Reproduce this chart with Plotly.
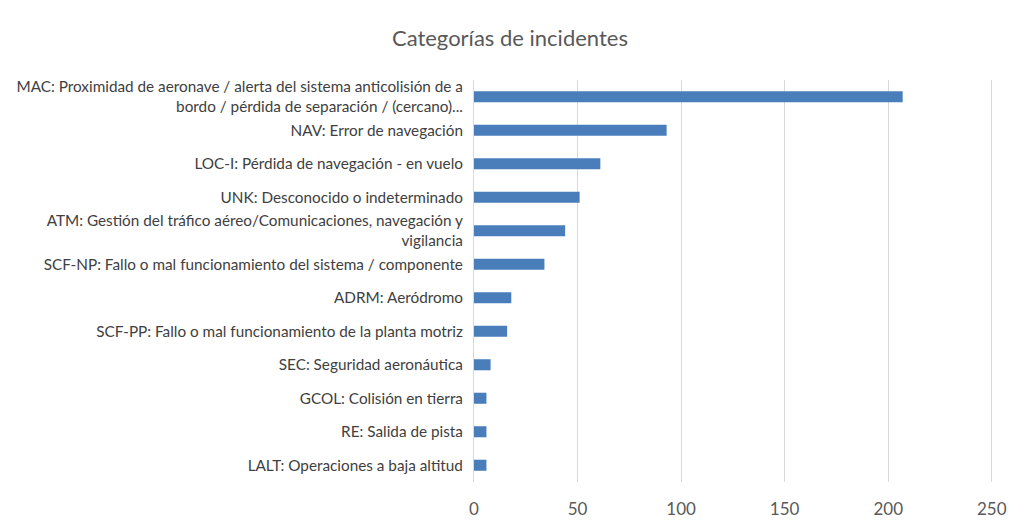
import plotly.graph_objects as go

categories = [
    "MAC: Proximidad de aeronave / alerta del sistema anticolisión de a<br>bordo / pérdida de separación / (cercano)...",
    "NAV: Error de navegación",
    "LOC-I: Pérdida de navegación - en vuelo",
    "UNK: Desconocido o indeterminado",
    "ATM: Gestión del tráfico aéreo/Comunicaciones, navegación y<br>vigilancia",
    "SCF-NP: Fallo o mal funcionamiento del sistema / componente",
    "ADRM: Aeródromo",
    "SCF-PP: Fallo o mal funcionamiento de la planta motriz",
    "SEC: Seguridad aeronáutica",
    "GCOL: Colisión en tierra",
    "RE: Salida de pista",
    "LALT: Operaciones a baja altitud",
]
values = [207, 93, 61, 51, 44, 34, 18, 16, 8, 6, 6, 6]
x_ticks = [0, 50, 100, 150, 200, 250]
title = "Categorías de incidentes"

FONT = "Lato"
TXT = "#595959"

fig = go.Figure(
    go.Bar(
        x=values,
        y=categories,
        orientation="h",
        marker=dict(color="#4a7ebb", line=dict(width=0)),
        width=0.33,
    )
)

fig.update_layout(
    width=1024,
    height=532,
    margin=dict(l=474, r=31, t=80, b=50),
    paper_bgcolor="white",
    plot_bgcolor="white",
    showlegend=False,
    title=dict(
        text=title,
        x=0.498,
        xanchor="center",
        y=1 - 38 / 532,
        yanchor="middle",
        font=dict(family=FONT, size=22, color=TXT),
    ),
    font=dict(family=FONT, color=TXT),
)

fig.update_xaxes(
    range=[0, 250.6],
    tickvals=x_ticks,
    showgrid=True,
    gridcolor="#d9d9d9",
    gridwidth=1,
    zeroline=False,
    showline=False,
    ticks="outside",
    ticklen=12,
    tickcolor="rgba(0,0,0,0)",
    tickfont=dict(family=FONT, size=17, color=TXT),
)

fig.update_yaxes(
    categoryorder="array",
    categoryarray=categories,
    autorange="reversed",
    showgrid=False,
    showline=True,
    linecolor="#d9d9d9",
    linewidth=1,
    ticks="outside",
    ticklen=7,
    tickcolor="rgba(0,0,0,0)",
    tickfont=dict(family=FONT, size=15.3, color="#404040"),
)

fig.write_html("out.html")
